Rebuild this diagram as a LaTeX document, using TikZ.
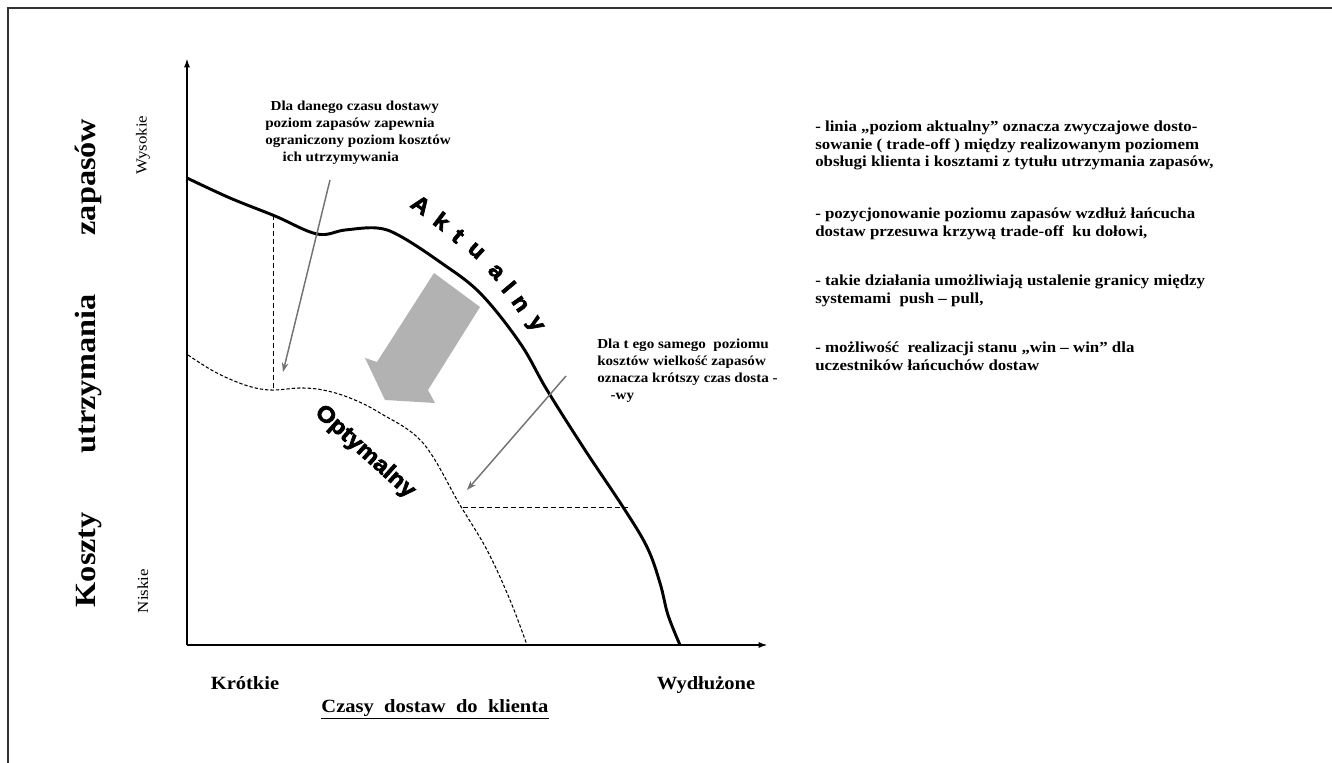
\documentclass[tikz,border=0pt]{standalone}
\usepackage{fontspec}
\setmainfont{Liberation Serif}[FakeStretch=1.1]
\newfontfamily\curvefont{Liberation Sans}[BoldFont={Liberation Sans Bold}, BoldFeatures={FakeBold=3, FakeStretch=1.08}]
\usetikzlibrary{arrows.meta, positioning}

\tikzset{
  axisline/.style={line width=1.4pt, -{Latex[length=7pt,width=4.5pt]}},
  pointer/.style={draw=black!55, line width=1.1pt, -{Stealth[length=7pt,width=5pt]}},
  helper/.style={line width=0.7pt, dash pattern=on 3.5pt off 2.5pt},
  note/.style={font=\bfseries\fontsize{10.3}{12.6}\selectfont, align=left, inner sep=0pt, anchor=north west},
  remark/.style={font=\bfseries\fontsize{11.5}{13}\selectfont, align=left, inner sep=0pt, anchor=north west},
  curvelabel/.style={font=\curvefont\bfseries\fontsize{17}{17}\selectfont, inner sep=0pt},
  endlabel/.style={font=\bfseries\fontsize{14}{14}\selectfont, inner sep=0pt, anchor=base},
}

\begin{document}
\begin{tikzpicture}[x=0.75pt, y=-0.75pt]
  \useasboundingbox (0,0) rectangle (1332,763);
  % frame
  \draw[line width=1.3pt, black!80] (8,763) -- (8,8) -- (1332,8);

  % axes
  \coordinate (O) at (187,645);
  \coordinate (ytop) at (187,58);
  \coordinate (xend) at (768,645);
  \draw[axisline] (O) -- (ytop);
  \draw[axisline] (O) -- (xend);

  % axis labels
  \node[rotate=90, font=\bfseries\fontsize{22}{22}\selectfont] (ylabel) at (88,363) {Koszty\hspace{2em}utrzymania\hspace{2em}zapasów};
  \node[rotate=90, font=\fontsize{11.5}{11.5}\selectfont] (high) at (143,145) {Wysokie};
  \node[rotate=90, font=\fontsize{11.5}{11.5}\selectfont] (low) at (143,591) {Niskie};
  \node[endlabel] (short) at (245,689) {Krótkie};
  \node[endlabel] (long) at (706,689) {Wydłużone};
  \node[endlabel] (xlabel) at (435,712) {\underline{Czasy\ \ dostaw\ \ do\ \ klienta}};

  % shift arrow
  \fill[black!30] (434,273) -- (377,362) -- (365,358) -- (385,400) -- (435,403) -- (428,390) -- (480,307) -- cycle;

  % current level
  \draw[line width=2.2pt, line join=round] plot[smooth, tension=0.6] coordinates {(187,178) (230,198) (275,216) (317,234) (345,230) (377,228) (400,236) (440,262) (480,293) (520,343) (547,390) (585,450) (623,507) (647,547) (660,583) (668,615) (680,645)};
  % optimal level
  \draw[line width=0.8pt, dash pattern=on 2.5pt off 1.5pt] plot[smooth, tension=0.6] coordinates {(188,355) (215,372) (245,385) (270,390) (300,388) (323,390) (350,398) (380,413) (423,443) (460,505) (487,550) (510,600) (527,645)};

  % guide lines
  \coordinate (a1) at (273,215);
  \coordinate (b1) at (273,390);
  \coordinate (a2) at (628,507);
  \coordinate (b2) at (460,507);
  \draw[helper] (a1) -- (b1);
  \draw[helper] (a2) -- (b2);

  % curve names
  \foreach \ch/\px/\py/\ang [count=\i] in {A/421/205/-35, k/442/221/-37, t/458/236/-40, u/476/251/-42, a/496/272/-47, l/509/287/-50, n/520/304/-55, y/534/325/-58}
    \node[curvelabel, rotate=\ang] (akt\i) at (\px,\py) {\ch};
  \node[curvelabel, rotate=-42] (opt) at (365,452) {Optymalny};

  % notes
  \node[note] (note1) at (265,101) {\hspace*{4pt}Dla danego czasu dostawy\\ poziom zapasów zapewnia\\ ograniczony poziom kosztów\\ \hspace*{13pt}ich utrzymywania};
  \node[note] (note2) at (597,339) {Dla t ego samego\ \ poziomu\\ kosztów wielkość zapasów\\ oznacza krótszy czas dosta -\\ \hspace*{10pt}-wy};
  \coordinate (p1s) at (330,180);
  \coordinate (p1e) at (283,372);
  \coordinate (p2s) at (566,376);
  \coordinate (p2e) at (467,490);
  \draw[pointer] (p1s) -- (p1e);
  \draw[pointer] (p2s) -- (p2e);

  % remarks
  \node[remark] (rem1) at (815,121) {- linia „poziom aktualny” oznacza zwyczajowe dosto-\\ sowanie ( trade-off ) między realizowanym poziomem\\ obsługi klienta i kosztami z tytułu utrzymania zapasów,};
  \node[remark] (rem2) at (815,208) {- pozycjonowanie poziomu zapasów wzdłuż łańcucha\\ dostaw przesuwa krzywą trade-off\ \ ku dołowi,};
  \node[remark] (rem3) at (815,275) {- takie działania umożliwiają ustalenie granicy między\\ systemami\ \ push – pull,};
  \node[remark] (rem4) at (815,342) {- możliwość\ \ realizacji stanu „win – win” dla\\ uczestników łańcuchów dostaw};
\end{tikzpicture}
\end{document}
